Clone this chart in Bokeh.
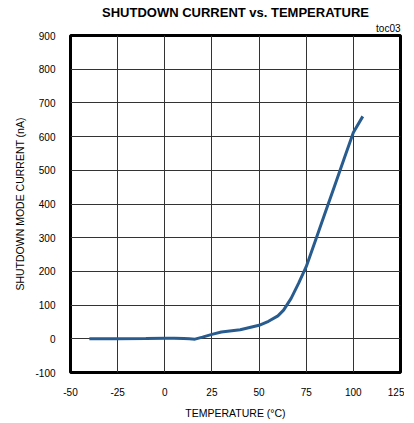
from bokeh.plotting import figure
from bokeh.models import Title, FixedTicker
from bokeh.embed import file_html
from bokeh.resources import INLINE

temp_c = [-40, -25, -10, 0, 5, 10, 13, 16, 20, 25, 30, 40, 50, 55, 60, 63, 67, 71, 75, 80, 85, 90, 95, 100, 105]
current_na = [0, 0, 1, 2, 2, 1, 0, -1, 5, 13, 20, 27, 40, 52, 68, 85, 120, 165, 214, 293, 373, 453, 533, 612, 660]
x_ticks = [-50, -25, 0, 25, 50, 75, 100, 125]
y_ticks = [-100, 0, 100, 200, 300, 400, 500, 600, 700, 800, 900]

FONT = "Liberation Sans"

p = figure(frame_width=330, frame_height=337, x_range=(-50, 125), y_range=(-100, 900),
           output_backend="svg", toolbar_location=None,
           min_border_left=70, min_border_right=4, min_border_top=35, min_border_bottom=46)

p.add_layout(Title(text="toc03", align="right", text_font=FONT, text_font_size="10px",
                   text_font_style="normal", text_color="#000000", offset=0, standoff=3), "above")
p.add_layout(Title(text="SHUTDOWN CURRENT vs. TEMPERATURE", align="center", text_font=FONT,
                   text_font_size="13px", text_font_style="bold", text_color="#000000", standoff=0), "above")

p.line(temp_c, current_na, line_color="#285c8e", line_width=3)

p.outline_line_color = "#000000"
p.outline_line_width = 3

for ax in (p.xaxis[0], p.yaxis[0]):
    ax.axis_line_color = None
    ax.major_tick_line_color = None
    ax.minor_tick_line_color = None
    ax.major_label_text_font = FONT
    ax.major_label_text_font_size = "10px"
    ax.major_label_text_color = "#000000"
    ax.axis_label_text_font = FONT
    ax.axis_label_text_font_size = "10.5px"
    ax.axis_label_text_font_style = "normal"
    ax.axis_label_text_color = "#000000"
    ax.major_label_standoff = 9

p.xaxis.ticker = FixedTicker(ticks=x_ticks)
p.yaxis.ticker = FixedTicker(ticks=y_ticks)
p.xaxis.major_label_overrides = {t: str(t) for t in x_ticks}
p.yaxis.major_label_overrides = {t: str(t) for t in y_ticks}
p.xaxis.axis_label = "TEMPERATURE (°C)"
p.yaxis.axis_label = "SHUTDOWN MODE CURRENT (nA)"
p.xaxis.axis_label_standoff = 8
p.yaxis.axis_label_standoff = 6

p.xgrid.ticker = FixedTicker(ticks=x_ticks)
p.ygrid.ticker = FixedTicker(ticks=y_ticks)
p.grid.grid_line_color = "#333333"
p.grid.grid_line_width = 1
p.grid.grid_line_alpha = 1

open("out.html", "w").write(file_html(p, INLINE))
